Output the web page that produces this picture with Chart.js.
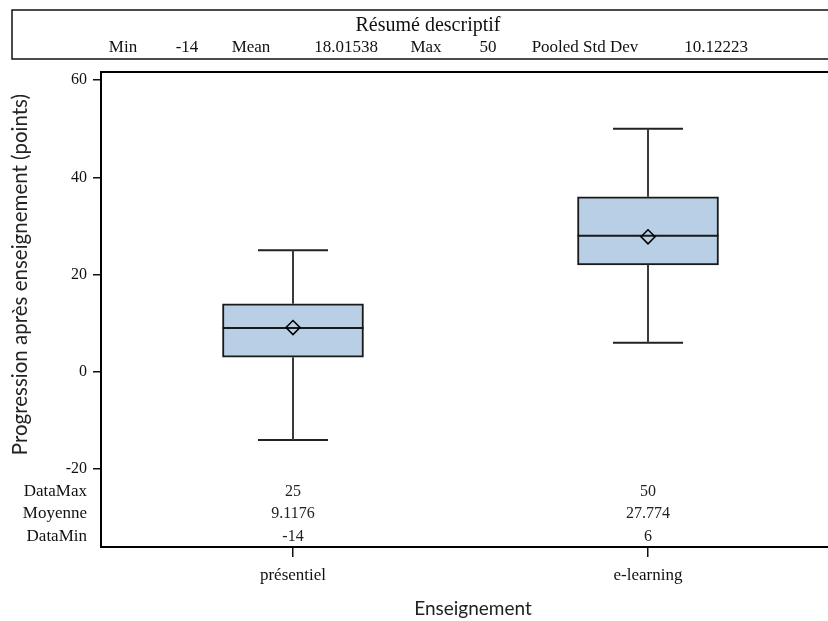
<!DOCTYPE html>
<html>
<head>
<meta charset="utf-8">
<script src="https://cdn.jsdelivr.net/npm/chart.js@4"></script>
<style>
  html, body { margin: 0; padding: 0; background: #fff; overflow: hidden; }
  #wrap { width: 828px; height: 621px; }
</style>
</head>
<body>
<div id="wrap"><canvas id="chart" width="828" height="621"></canvas></div>
<script>
// data
const categories = ["présentiel", "e-learning"];
const q1 = [3, 22];
const medians = [9, 28];
const q3 = [14, 36];
const whiskerLow = [-14, 6];
const whiskerHigh = [25, 50];
const means = [9.1176, 27.774];

const dataMaxLabels = ["25", "50"];
const moyenneLabels = ["9.1176", "27.774"];
const dataMinLabels = ["-14", "6"];
const insetRowLabels = ["DataMax", "Moyenne", "DataMin"];

const yTicks = [-20, 0, 20, 40, 60];

const summaryTitle = "Résumé descriptif";
const summaryLabels = ["Min", "Mean", "Max", "Pooled Std Dev"];
const summaryValues = ["-14", "18.01538", "50", "10.12223"];

const yTitle = "Progression après enseignement (points)";
const xTitle = "Enseignement";

const SERIF = "'Liberation Serif', 'Times New Roman', serif";
const SANS = "Lato, 'Open Sans', sans-serif";
const BOX_FILL = "rgb(185, 207, 230)";
const BOX_HALF = 0.1986; // x units
const CAP_HALF = 0.0986;

// build line segments (null breaks the line)
const whiskerPts = [];
const capPts = [];
const medianPts = [];
categories.forEach((c, i) => {
  whiskerPts.push({ x: i, y: q3[i] }, { x: i, y: whiskerHigh[i] }, { x: i, y: null });
  whiskerPts.push({ x: i, y: whiskerLow[i] }, { x: i, y: q1[i] }, { x: i, y: null });
  capPts.push({ x: i - CAP_HALF, y: whiskerHigh[i] }, { x: i + CAP_HALF, y: whiskerHigh[i] }, { x: i, y: null });
  capPts.push({ x: i - CAP_HALF, y: whiskerLow[i] }, { x: i + CAP_HALF, y: whiskerLow[i] }, { x: i, y: null });
  medianPts.push({ x: i - BOX_HALF, y: medians[i] }, { x: i + BOX_HALF, y: medians[i] }, { x: i, y: null });
});

// header table, inset table, top frame line and axis titles
const decorations = {
  id: "decorations",
  afterDraw(chart) {
    const ctx = chart.ctx;
    const area = chart.chartArea;
    const xs = chart.scales.x;
    const ys = chart.scales.y;
    ctx.save();

    // frame top
    ctx.strokeStyle = "#000";
    ctx.lineWidth = 2;
    ctx.beginPath();
    ctx.moveTo(area.left, area.top);
    ctx.lineTo(area.right + 2, area.top);
    ctx.stroke();

    // summary box
    ctx.lineWidth = 1.5;
    ctx.strokeStyle = "#111";
    ctx.strokeRect(12, 10, 900, 49);
    ctx.fillStyle = "#111";
    ctx.textAlign = "center";
    ctx.textBaseline = "middle";
    ctx.font = "20px " + SERIF;
    ctx.fillText(summaryTitle, 428, 26);
    ctx.font = "17px " + SERIF;
    const labelX = [123, 251, 426, 585];
    const valueX = [187, 346, 488, 716];
    summaryLabels.forEach((l, i) => {
      ctx.fillText(l, labelX[i], 48);
      ctx.fillText(summaryValues[i], valueX[i], 48);
    });

    // inset table under the boxes
    const rowY = [492, 514, 537];
    const rows = [dataMaxLabels, moyenneLabels, dataMinLabels];
    ctx.font = "17px " + SERIF;
    ctx.textAlign = "right";
    insetRowLabels.forEach((l, r) => ctx.fillText(l, 87, rowY[r]));
    ctx.font = "16px " + SERIF;
    ctx.textAlign = "center";
    ctx.fillStyle = "#222";
    rows.forEach((vals, r) => {
      vals.forEach((v, i) => ctx.fillText(v, xs.getPixelForValue(i), rowY[r]));
    });

    // axis titles
    ctx.fillStyle = "#222";
    ctx.font = "19px " + SANS;
    ctx.fillText(xTitle, 473, 609);
    const yMid = (ys.getPixelForValue(yTicks[0]) + ys.getPixelForValue(yTicks[yTicks.length - 1])) / 2;
    ctx.font = "20.5px " + SANS;
    ctx.translate(20, yMid);
    ctx.rotate(-Math.PI / 2);
    ctx.fillText(yTitle, 0, 0);
    ctx.restore();
  },
};

new Chart(document.getElementById("chart"), {
  data: {
    datasets: [
      {
        type: "bar",
        label: "box",
        data: categories.map((c, i) => ({ x: i, y: [q1[i], q3[i]] })),
        backgroundColor: BOX_FILL,
        borderColor: "#1a1a1a",
        borderWidth: 2,
        borderSkipped: false,
        barThickness: 141,
        order: 4,
      },
      {
        type: "line",
        label: "whiskers",
        data: whiskerPts,
        borderColor: "#3a3a3a",
        borderWidth: 2,
        pointRadius: 0,
        spanGaps: false,
        fill: false,
        order: 3,
      },
      {
        type: "line",
        label: "caps",
        data: capPts,
        borderColor: "#222",
        borderWidth: 2,
        pointRadius: 0,
        spanGaps: false,
        fill: false,
        order: 3,
      },
      {
        type: "line",
        label: "median",
        data: medianPts,
        borderColor: "#1a1a1a",
        borderWidth: 2,
        pointRadius: 0,
        spanGaps: false,
        fill: false,
        order: 2,
      },
      {
        type: "scatter",
        label: "mean",
        data: categories.map((c, i) => ({ x: i, y: means[i] })),
        pointStyle: "rectRot",
        pointRadius: 7,
        borderColor: "#000",
        borderWidth: 1.6,
        backgroundColor: "rgba(0,0,0,0)",
        order: 1,
      },
    ],
  },
  options: {
    responsive: false,
    animation: false,
    layout: { autoPadding: false, padding: { top: 72, left: 0, right: 0, bottom: 0 } },
    plugins: {
      legend: { display: false },
      tooltip: { enabled: false },
    },
    scales: {
      x: {
        type: "linear",
        min: -0.5408,
        max: 1.507,
        offset: false,
        afterBuildTicks: (scale) => {
          scale.ticks = categories.map((c, i) => ({ value: i }));
        },
        afterFit: (scale) => {
          scale.height = 74;
          scale.paddingLeft = 0;
          scale.paddingRight = 0;
        },
        ticks: {
          callback: (v) => categories[v],
          font: { family: SERIF, size: 17 },
          color: "#111",
          padding: 8,
          maxRotation: 0,
        },
        grid: {
          display: true,
          offset: false,
          drawOnChartArea: false,
          drawTicks: true,
          tickLength: 10,
          color: "#111",
          lineWidth: 1.5,
        },
        border: { display: true, color: "#000", width: 2 },
      },
      y: {
        min: -36,
        max: 61.65,
        afterBuildTicks: (scale) => {
          scale.ticks = yTicks.map((v) => ({ value: v }));
        },
        afterFit: (scale) => {
          scale.width = 101;
        },
        ticks: {
          font: { family: SERIF, size: 16 },
          color: "#111",
          padding: 6,
        },
        grid: {
          display: true,
          drawOnChartArea: false,
          drawTicks: true,
          tickLength: 8,
          color: "#111",
          lineWidth: 1.5,
        },
        border: { display: true, color: "#000", width: 2 },
      },
    },
  },
  plugins: [decorations],
});
</script>
</body>
</html>
